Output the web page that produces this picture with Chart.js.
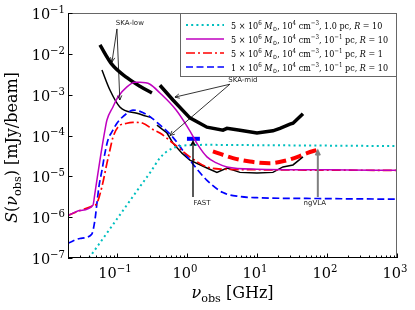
<!DOCTYPE html>
<html>
<head>
<meta charset="utf-8">
<script src="https://cdn.jsdelivr.net/npm/chart.js@4.4.1/dist/chart.umd.min.js"></script>
<style>
  html, body { margin: 0; padding: 0; background: #fff; }
</style>
</head>
<body>
<canvas id="chart" width="415" height="310"></canvas>
<script>
// frequency in GHz, flux in mJy/beam
const nuDot = [0.04, 0.1, 0.2, 0.3, 0.41, 0.5, 0.63, 0.8, 1.1, 2, 10, 100, 1000];
const sDot  = [1e-7, 9e-7, 4.8e-6, 1.26e-5, 2.8e-5, 3.9e-5, 4.9e-5, 5.5e-5, 5.8e-5, 5.9e-5, 5.8e-5, 5.65e-5, 5.5e-5];

const nuMag = [0.02, 0.0296, 0.0454, 0.0485, 0.0572, 0.0674, 0.072, 0.0877, 0.103, 0.139, 0.181, 0.213, 0.296, 0.411, 0.7, 1.1, 1.44, 1.93, 2.68, 3.73, 10, 100, 1000];
const sMag  = [1.1e-6, 1.45e-6, 1.95e-6, 3.9e-6, 2.5e-5, 1.35e-4, 2.4e-4, 5e-4, 8.7e-4, 1.55e-3, 2.0e-3, 2.0e-3, 1.8e-3, 1.1e-3, 4.2e-4, 1.3e-4, 5.8e-5, 3e-5, 2.1e-5, 1.7e-5, 1.5e-5, 1.45e-5, 1.4e-5];

const nuR1 = [0.02, 0.0296, 0.0454, 0.0518, 0.0611, 0.072, 0.0794, 0.0877, 0.103, 0.139, 0.169, 0.235, 0.327, 0.411, 0.631, 1.1, 1.93, 3.27, 10, 100, 1000];
const sR1  = [1.1e-6, 1.45e-6, 1.9e-6, 2.2e-6, 5.6e-6, 2.1e-5, 4.4e-5, 9e-5, 1.6e-4, 2e-4, 2.1e-4, 2e-4, 1.4e-4, 1.15e-4, 6.5e-5, 3e-5, 1.7e-5, 1.5e-5, 1.45e-5, 1.42e-5, 1.4e-5];

const nuLow = [0.02, 0.0296, 0.0435, 0.0485, 0.0518, 0.0553, 0.0611, 0.0674, 0.0744, 0.0877, 0.1, 0.139, 0.169, 0.213, 0.296, 0.373, 0.631, 1.1, 1.93, 3.27, 5.72, 10, 100, 1000];
const sLow  = [2.3e-7, 3.0e-7, 3.8e-7, 8.5e-7, 2.2e-6, 5.6e-6, 1.4e-5, 3.7e-5, 7.8e-5, 1.35e-4, 2e-4, 3.5e-4, 4.2e-4, 3.9e-4, 2.9e-4, 2.1e-4, 9e-5, 2.5e-5, 8e-6, 4e-6, 3.2e-6, 3.0e-6, 2.85e-6, 2.75e-6];

// telescope sensitivities
const nuSkaLowA = [0.0572, 0.0849, 0.139, 0.213, 0.316];
const sSkaLowA  = [1.65e-2, 5.5e-3, 2.6e-3, 1.6e-3, 1.1e-3];
const nuSkaLowB = [0.0611, 0.0794, 0.11, 0.193, 0.316];
const sSkaLowB  = [4e-3, 1.3e-3, 5e-4, 3.5e-4, 2.7e-4];
const nuSkaMidA = [0.411, 0.631, 1.1, 1.93, 3.27, 3.73, 5.72, 10, 16.9, 21.3, 29.6, 32.7, 45.4];
const sSkaMidA  = [1.7e-3, 7.4e-4, 2.7e-4, 1.6e-4, 1.35e-4, 1.5e-4, 1.35e-4, 1.15e-4, 1.3e-4, 1.5e-4, 1.9e-4, 2.0e-4, 3.4e-4];
const nuSkaMidB = [0.373, 0.518, 0.631, 0.849, 1.1, 1.93, 2.68, 3.73, 5.72, 10, 16.9, 23.5, 32.7, 45.4];
const sSkaMidB  = [1.8e-4, 1.15e-4, 6.5e-5, 3.7e-5, 2.5e-5, 1.6e-5, 1.25e-5, 1.6e-5, 1.25e-5, 1.2e-5, 1.25e-5, 1.7e-5, 1.9e-5, 3e-5];
const nuFast = [1.0, 1.53];
const sFast  = [8.3e-5, 8.3e-5];
const nuNgvla = [2.35, 4.54, 7.94, 15, 25, 40, 51.8, 74];
const sNgvla  = [4.1e-5, 2.8e-5, 2.3e-5, 2.1e-5, 2.4e-5, 3.1e-5, 3.7e-5, 4.5e-5];

const legendLabels = [
    '5 × 10^{6} *M*_{⊙}, 10^{4} cm^{−3}, 1.0 pc, *R* = 10',
    '5 × 10^{6} *M*_{⊙}, 10^{4} cm^{−3}, 10^{−1} pc, *R* = 10',
    '5 × 10^{6} *M*_{⊙}, 10^{4} cm^{−3}, 10^{−1} pc, *R* = 1',
    '1 × 10^{6} *M*_{⊙}, 10^{4} cm^{−3}, 10^{−1} pc, *R* = 10'
];

// annotations: label, label position, arrow tail, arrow heads (data coords)
const notes = [
    { text: 'SKA-low', at: [0.153, 0.0569], from: [0.1, 0.0407], to: [[0.0849, 6.3e-3], [0.11, 7.4e-4]], color: '#000', lw: 0.8 },
    { text: 'SKA-mid', at: [6.3, 2.3e-3], from: [4.1, 1.8e-3], to: [[0.674, 8.7e-4], [0.572, 1.0e-4]], color: '#000', lw: 0.8 },
    { text: 'FAST', at: [1.64, 2.2e-6], from: [1.22, 3.1e-6], to: [[1.22, 7.2e-5]], color: '#000', lw: 1.3 },
    { text: 'ngVLA', at: [67, 2.2e-6], from: [74, 3.1e-6], to: [[74, 4.2e-5]], color: '#808080', lw: 2 }
];

const pts = (xs, ys) => xs.map((x, i) => ({ x: x, y: ys[i] }));

const SERIF = "'DejaVu Serif', 'Liberation Serif', serif";

// tiny rich text: ^{..} superscript, _{..} subscript, *..* italic
function parseRich(str) {
    const out = [];
    const re = /\^\{([^}]*)\}|_\{([^}]*)\}|\*([^*]*)\*|([^\^_*]+)/g;
    let m;
    while ((m = re.exec(str)) !== null) {
        if (m[1] !== undefined) out.push({ t: m[1], k: 'sup' });
        else if (m[2] !== undefined) out.push({ t: m[2], k: 'sub' });
        else if (m[3] !== undefined) out.push({ t: m[3], k: 'it' });
        else out.push({ t: m[4], k: 'n' });
    }
    return out;
}
function segFont(k, size) {
    if (k === 'sup' || k === 'sub') return (size * 0.7).toFixed(1) + 'px ' + SERIF;
    if (k === 'it') return 'italic ' + size + 'px ' + SERIF;
    return size + 'px ' + SERIF;
}
function richWidth(ctx, str, size) {
    let w = 0;
    parseRich(str).forEach(s => { ctx.font = segFont(s.k, size); w += ctx.measureText(s.t).width; });
    return w;
}
function drawRich(ctx, str, x, y, size, align, sx) {
    sx = sx || 1;
    const w = richWidth(ctx, str, size) * sx;
    let cx = align === 'right' ? x - w : align === 'center' ? x - w / 2 : x;
    ctx.save();
    ctx.translate(cx, y);
    ctx.scale(sx, 1);
    ctx.textBaseline = 'alphabetic';
    ctx.textAlign = 'left';
    let px = 0;
    parseRich(str).forEach(s => {
        ctx.font = segFont(s.k, size);
        let dy = 0;
        if (s.k === 'sup') dy = -size * 0.42;
        if (s.k === 'sub') dy = size * 0.22;
        ctx.fillText(s.t, px, dy);
        px += ctx.measureText(s.t).width;
    });
    ctx.restore();
}

function arrow(ctx, x0, y0, x1, y1, color, lw) {
    ctx.save();
    ctx.strokeStyle = color;
    ctx.lineWidth = lw;
    ctx.beginPath();
    ctx.moveTo(x0, y0);
    ctx.lineTo(x1, y1);
    const a = Math.atan2(y1 - y0, x1 - x0);
    const h = 5;
    ctx.moveTo(x1 - h * Math.cos(a - 0.45), y1 - h * Math.sin(a - 0.45));
    ctx.lineTo(x1, y1);
    ctx.lineTo(x1 - h * Math.cos(a + 0.45), y1 - h * Math.sin(a + 0.45));
    ctx.stroke();
    ctx.restore();
}

const sup = e => (e < 0 ? '−' + (-e) : '' + e);

const decor = {
    id: 'decor',
    afterDraw(chart) {
        const ctx = chart.ctx;
        const xs = chart.scales.x, ys = chart.scales.y;
        const a = chart.chartArea;
        ctx.save();

        // annotations
        notes.forEach(n => {
            const tx = xs.getPixelForValue(n.from[0]), ty = ys.getPixelForValue(n.from[1]);
            n.to.forEach(p => arrow(ctx, tx, ty, xs.getPixelForValue(p[0]), ys.getPixelForValue(p[1]), n.color, n.lw));
            ctx.fillStyle = '#222';
            ctx.font = "7px 'DejaVu Sans', sans-serif";
            ctx.textAlign = 'center';
            ctx.textBaseline = 'middle';
            ctx.fillText(n.text, xs.getPixelForValue(n.at[0]), ys.getPixelForValue(n.at[1]));
        });

        // frame
        ctx.lineWidth = 1;
        ctx.strokeStyle = '#666';
        ctx.strokeRect(a.left + 0.5, a.top + 0.5, a.right - a.left - 1, a.bottom - a.top - 1);
        ctx.strokeStyle = '#000';
        ctx.beginPath();
        ctx.moveTo(a.left + 0.5, a.top);
        ctx.lineTo(a.left + 0.5, a.bottom - 0.5);
        ctx.lineTo(a.right, a.bottom - 0.5);
        ctx.stroke();

        // inward ticks and labels
        ctx.fillStyle = '#000';
        ctx.beginPath();
        for (let e = -2; e <= 3; e++) {
            for (let m = 1; m <= 9; m++) {
                const v = m * Math.pow(10, e);
                if (v < xs.min * 0.999 || v > xs.max * 1.001) continue;
                const px = Math.round(xs.getPixelForValue(v)) + 0.5;
                const len = m === 1 ? 4.5 : 2.5;
                ctx.moveTo(px, a.bottom);
                ctx.lineTo(px, a.bottom - len);
            }
        }
        for (let e = -7; e <= -1; e++) {
            const py = Math.round(ys.getPixelForValue(Math.pow(10, e))) + 0.5;
            ctx.moveTo(a.left, py);
            ctx.lineTo(a.left + 4.5, py);
        }
        ctx.stroke();

        for (let e = -1; e <= 3; e++) {
            const px = xs.getPixelForValue(Math.pow(10, e));
            drawRich(ctx, '10^{' + sup(e) + '}', px - 2, a.bottom + 20, 14.5, 'center');
        }
        for (let e = -7; e <= -1; e++) {
            const py = ys.getPixelForValue(Math.pow(10, e));
            drawRich(ctx, '10^{' + sup(e) + '}', a.left - 3, py + 6, 14.5, 'right');
        }

        // axis titles
        drawRich(ctx, '*ν*_{obs} [GHz]', (a.left + a.right) / 2, 298, 16, 'center');
        ctx.save();
        ctx.translate(17, (a.top + a.bottom) / 2 + 12);
        ctx.rotate(-Math.PI / 2);
        drawRich(ctx, '*S*(*ν*_{obs}) [mJy/beam]', 0, 0, 16, 'center');
        ctx.restore();

        // legend
        const lx = 180, ly = a.top, lw = a.right - lx, lh = 64;
        ctx.fillStyle = 'rgba(255,255,255,0.9)';
        ctx.fillRect(lx, ly, lw, lh);
        ctx.strokeStyle = '#666';
        ctx.lineWidth = 1;
        ctx.strokeRect(lx + 0.5, ly + 0.5, lw - 1, lh - 1);
        const fs = 9.5;
        const widest = Math.max.apply(null, legendLabels.map(t => richWidth(ctx, t, fs)));
        const sx = Math.min(1, 157 / widest);
        for (let i = 0; i < 4; i++) {
            const ds = chart.data.datasets[i];
            const yy = ly + 12 + i * 14;
            ctx.save();
            ctx.strokeStyle = ds.borderColor;
            ctx.lineWidth = ds.borderWidth;
            ctx.setLineDash(ds.borderDash || []);
            ctx.beginPath();
            ctx.moveTo(186, yy);
            ctx.lineTo(224, yy);
            ctx.stroke();
            ctx.restore();
            ctx.fillStyle = '#000';
            drawRich(ctx, legendLabels[i], 231, yy + 3.5, fs, 'left', sx);
        }
        ctx.restore();
    }
};

const ctx = document.getElementById('chart').getContext('2d');
new Chart(ctx, {
    type: 'line',
    data: {
        datasets: [
            { data: pts(nuDot, sDot), borderColor: '#00bfbf', borderWidth: 2, borderDash: [2, 3.2], cubicInterpolationMode: 'monotone' },
            { data: pts(nuMag, sMag), borderColor: '#bf00bf', borderWidth: 1.5, cubicInterpolationMode: 'monotone' },
            { data: pts(nuR1, sR1), borderColor: '#ff0000', borderWidth: 1.7, borderDash: [9, 3, 2, 3], cubicInterpolationMode: 'monotone' },
            { data: pts(nuLow, sLow), borderColor: '#0000ff', borderWidth: 1.7, borderDash: [7, 3.5], cubicInterpolationMode: 'monotone' },
            { data: pts(nuSkaLowA, sSkaLowA), borderColor: '#000', borderWidth: 3.5, cubicInterpolationMode: 'monotone' },
            { data: pts(nuSkaLowB, sSkaLowB), borderColor: '#000', borderWidth: 1.5, cubicInterpolationMode: 'monotone' },
            { data: pts(nuSkaMidA, sSkaMidA), borderColor: '#000', borderWidth: 3.5 },
            { data: pts(nuSkaMidB, sSkaMidB), borderColor: '#000', borderWidth: 1.5 },
            { data: pts(nuFast, sFast), borderColor: '#0000ff', borderWidth: 4 },
            { data: pts(nuNgvla, sNgvla), borderColor: '#ff0000', borderWidth: 4, borderDash: [11, 5], cubicInterpolationMode: 'monotone' }
        ]
    },
    options: {
        responsive: false,
        animation: false,
        layout: { padding: { left: 8, right: 18, top: 13, bottom: 12 } },
        elements: { point: { radius: 0 }, line: { fill: false } },
        plugins: { legend: { display: false }, tooltip: { enabled: false } },
        scales: {
            x: {
                type: 'logarithmic', min: 0.02, max: 1000,
                grid: { display: false }, border: { display: false },
                ticks: { display: false },
                afterFit: s => { s.height = 40; }
            },
            y: {
                type: 'logarithmic', min: 1e-7, max: 1e-1,
                grid: { display: false }, border: { display: false },
                ticks: { display: false },
                afterFit: s => { s.width = 60; }
            }
        }
    },
    plugins: [decor]
});
</script>
</body>
</html>
